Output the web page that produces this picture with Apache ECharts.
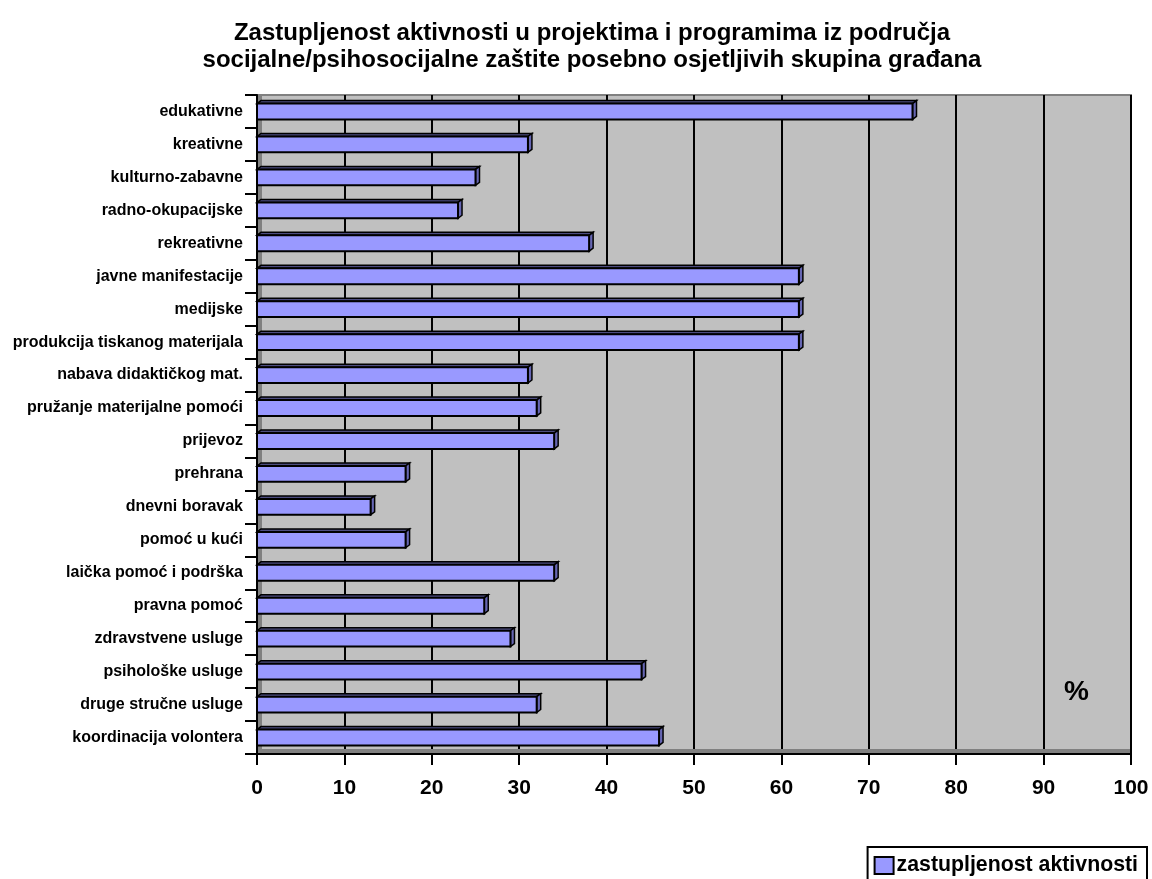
<!DOCTYPE html>
<html>
<head>
<meta charset="utf-8">
<script src="https://cdn.jsdelivr.net/npm/echarts@6/dist/echarts.min.js"></script>
<style>
  html, body { margin: 0; padding: 0; background: #fff; }
  #chart { width: 1152px; height: 879px; }
</style>
</head>
<body>
<div id="chart"></div>
<script>
// kategorije aktivnosti (odozgo prema dolje)
const categories = [
  'edukativne', 'kreativne', 'kulturno-zabavne', 'radno-okupacijske', 'rekreativne',
  'javne manifestacije', 'medijske', 'produkcija tiskanog materijala', 'nabava didaktičkog mat.',
  'pružanje materijalne pomoći', 'prijevoz', 'prehrana', 'dnevni boravak', 'pomoć u kući',
  'laička pomoć i podrška', 'pravna pomoć', 'zdravstvene usluge', 'psihološke usluge',
  'druge stručne usluge', 'koordinacija volontera'
]
// zastupljenost u %
const values = [75, 31, 25, 23, 38, 62, 62, 62, 31, 32, 34, 17, 13, 17, 34, 26, 29, 44, 32, 46]
const xTicks = [0, 10, 20, 30, 40, 50, 60, 70, 80, 90, 100]

const font = 'Liberation Sans, Arial, sans-serif'
const chart = echarts.init(document.getElementById('chart'))

// 3D traka: prednja strana + gornja i desna ploha
function renderBar(params, api) {
  const c = api.value(1)
  const p0 = api.coord([0, c])
  const p1 = api.coord([api.value(0), c])
  const h = api.size([0, 1])[1] * 0.48
  const yTop = p0[1] - h / 2
  const yBot = p0[1] + h / 2
  const dx = 4, dy = 3
  return {
    type: 'group',
    children: [
      {
        type: 'polygon',
        shape: { points: [[p0[0], yTop], [p0[0] + dx, yTop - dy], [p1[0] + dx, yTop - dy], [p1[0], yTop]] },
        style: { fill: '#4d4d80', stroke: '#000', lineWidth: 1.5 }
      },
      {
        type: 'polygon',
        shape: { points: [[p1[0], yTop], [p1[0] + dx, yTop - dy], [p1[0] + dx, yBot - dy], [p1[0], yBot]] },
        style: { fill: '#6666b3', stroke: '#000', lineWidth: 1.5 }
      },
      {
        type: 'rect',
        shape: { x: p0[0], y: yTop, width: p1[0] - p0[0], height: h },
        style: { fill: '#9999ff', stroke: '#000', lineWidth: 2 }
      }
    ]
  }
}

chart.setOption({
  animation: false,
  textStyle: { fontFamily: font },
  title: {
    text: 'Zastupljenost aktivnosti u projektima i programima iz područja\nsocijalne/psihosocijalne zaštite posebno osjetljivih skupina građana',
    left: 587,
    top: 15,
    textAlign: 'center',
    textStyle: { fontSize: 24, fontFamily: font, fontWeight: 'bold', color: '#000', lineHeight: 27, align: 'center' }
  },
  legend: {
    right: 5,
    top: 847,
    padding: [8, 9, 8, 6],
    borderColor: '#000',
    borderWidth: 2,
    itemWidth: 19,
    itemHeight: 17,
    itemGap: 4,
    icon: 'rect',
    textStyle: { fontSize: 21.3, fontFamily: font, fontWeight: 'bold', color: '#000', padding: [0, 0, 0, -2] },
    itemStyle: { color: '#9999ff', borderColor: '#000', borderWidth: 2 },
    data: ['zastupljenost aktivnosti']
  },
  grid: {
    left: 257,
    right: 21,
    top: 95,
    bottom: 125,
    show: true,
    backgroundColor: '#c0c0c0',
    borderColor: '#808080',
    borderWidth: 2
  },
  xAxis: {
    type: 'value',
    min: xTicks[0],
    max: xTicks[xTicks.length - 1],
    interval: 10,
    axisLine: { show: true, lineStyle: { color: '#000', width: 2 } },
    axisTick: { show: true, length: 11, lineStyle: { color: '#000', width: 2 } },
    axisLabel: { fontSize: 21, fontFamily: font, fontWeight: 'bold', color: '#000', margin: 24 },
    splitLine: { show: true, lineStyle: { color: '#000', width: 2 } }
  },
  yAxis: {
    type: 'category',
    data: categories,
    inverse: true,
    axisLine: { show: true, lineStyle: { color: '#000', width: 2 } },
    axisTick: { show: true, length: 12, lineStyle: { color: '#000', width: 2 } },
    axisLabel: { fontSize: 16, fontFamily: font, fontWeight: 'bold', color: '#000', margin: 14 }
  },
  graphic: [
    // lijevi zid i pod (3D)
    { type: 'rect', shape: { x: 258, y: 96, width: 4, height: 657 }, style: { fill: '#808080' }, z: 1 },
    { type: 'rect', shape: { x: 258, y: 749, width: 872, height: 4 }, style: { fill: '#808080' }, z: 1 },
    {
      type: 'text', left: 1064, top: 678,
      style: { text: '%', font: 'bold 28px ' + font, fill: '#000' }, z: 10
    }
  ],
  series: [{
    name: 'zastupljenost aktivnosti',
    type: 'custom',
    renderItem: renderBar,
    itemStyle: { color: '#9999ff', borderColor: '#000', borderWidth: 2 },
    encode: { x: 0, y: 1 },
    data: values.map((v, i) => [v, i]),
    z: 5
  }]
})
</script>
</body>
</html>
